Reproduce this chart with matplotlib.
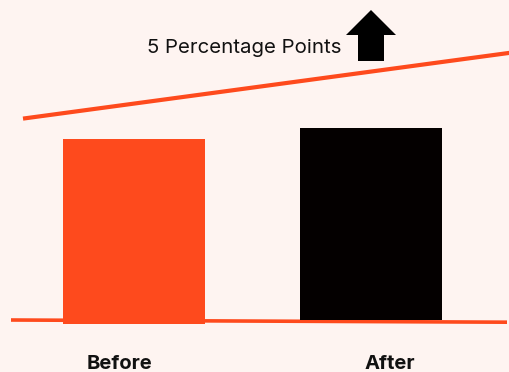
import matplotlib
matplotlib.use("Agg")
import matplotlib.pyplot as plt
from matplotlib.patches import Polygon

categories = ["Before", "After"]
values = [184.7, 191.4]
bottoms = [48.3, 52.3]
annotation = "5 Percentage Points"

BG = "#FEF4F1"
ORANGE = "#FE4A1D"
BLACK = "#040000"

plt.rcParams['font.family'] = ['Inter', 'DejaVu Sans']

fig = plt.figure(figsize=(5.10, 3.72), dpi=100, facecolor=BG)
ax = fig.add_axes([0, 0, 1, 1])
ax.set_facecolor(BG)
x = list(range(len(categories)))
ax.set_xlim(-134/237, (510-134)/237)
ax.set_ylim(0, 372)
ax.axis('off')

# overlay for decorations (pixel coords)
ov = fig.add_axes([0, 0, 1, 1], facecolor='none')
ov.set_xlim(0, 510)
ov.set_ylim(372, 0)
ov.axis('off')
ov.set_zorder(0)
ax.set_zorder(1)
ax.patch.set_alpha(0)
fig.patch.set_facecolor(BG)

# baseline and trend line
ov.plot([11, 507], [320.0, 322.2], color=ORANGE, lw=2.6, solid_capstyle='butt')
ov.plot([23, 510], [118.6, 52.8], color=ORANGE, lw=3.0, solid_capstyle='butt')

ax.bar(x, values, bottom=bottoms, width=142/237, color=[ORANGE, BLACK], zorder=3)

# arrow
arrow = Polygon([(371, 10), (396, 35), (384, 35), (384, 61), (358, 61), (358, 35), (346, 35)],
                closed=True, facecolor='black', edgecolor='none', lw=0)
ov.add_patch(arrow)
ov.text(342, 53, annotation, ha='right', va='baseline', fontsize=14.7, color='#111111')

for cx, lab in zip([120, 390], categories):
    ov.text(cx, 369, lab, ha='center', va='baseline', fontsize=14.5, fontweight='bold', color='#111111')

fig.savefig("out.png", dpi=100, facecolor=BG)
